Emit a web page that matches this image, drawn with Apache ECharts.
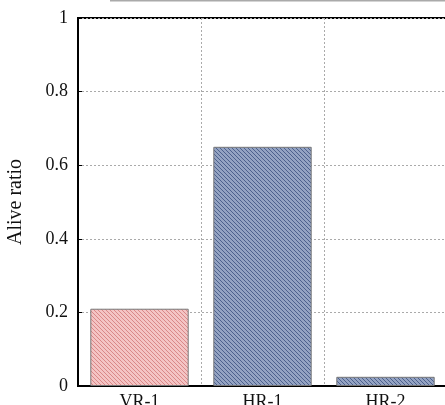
<!DOCTYPE html>
<html><head><meta charset="utf-8">
<script src="https://cdn.jsdelivr.net/npm/echarts@6/dist/echarts.min.js"></script>
<style>html,body{margin:0;padding:0;background:#fff}#c{width:445px;height:405px}</style>
</head><body><div id="c"></div>
<script>
const categories = ['VR-1', 'HR-1', 'HR-2'];
const aliveRatio = [0.21, 0.65, 0.025];
const yTicks = [0, 0.2, 0.4, 0.6, 0.8, 1];

function hatch(base, line) {
  const c = document.createElement('canvas');
  c.width = 4; c.height = 4;
  const g = c.getContext('2d');
  g.fillStyle = base; g.fillRect(0, 0, 4, 4);
  g.fillStyle = line;
  for (let i = 0; i < 4; i++) { g.fillRect(i, i, 1, 1); }
  return c;
}
const pinkPat = { image: hatch('#f4c4c4', '#d98888'), repeat: 'repeat' };
const bluePat = { image: hatch('#94a3c2', '#4d618c'), repeat: 'repeat' };
const fills = [pinkPat, bluePat, bluePat];

const chart = echarts.init(document.getElementById('c'));
const font = 'Liberation Serif';
chart.setOption({
  animation: false,
  grid: { left: 78, top: 18, width: 369, height: 368, containLabel: false, outerBoundsMode: 'none',
    show: true, borderColor: '#000', borderWidth: 2, backgroundColor: 'transparent' },
  graphic: [{ type: 'line', shape: { x1: 110, y1: 0.5, x2: 445, y2: 0.5 }, style: { stroke: '#aaa', lineWidth: 2 } }],
  xAxis: {
    type: 'category', data: categories,
    axisLine: { lineStyle: { color: '#000', width: 2 } },
    axisTick: { show: false },
    splitLine: { show: true, lineStyle: { color: '#aaa', type: [2, 2], width: 1 } },
    axisLabel: { fontFamily: font, fontSize: 18, color: '#111', margin: 7 }
  },
  yAxis: {
    type: 'value', min: 0, max: 1, interval: 0.2,
    name: 'Alive ratio', nameLocation: 'middle', nameGap: 52, nameRotate: 90,
    nameTextStyle: { fontFamily: font, fontSize: 20, color: '#111' },
    axisLine: { show: true, lineStyle: { color: '#000', width: 2 } },
    axisTick: { show: true, inside: true, length: 4, lineStyle: { color: '#000' } },
    splitLine: { show: true, lineStyle: { color: '#aaa', type: [2, 2], width: 1 } },
    axisLabel: { fontFamily: font, fontSize: 18, color: '#111', margin: 10,
      formatter: v => (yTicks.indexOf(v) >= 0 ? String(v) : '') }
  },
  series: [{
    type: 'bar', barCategoryGap: '20%',
    data: aliveRatio.map((v, i) => ({ value: v, itemStyle: { color: fills[i] } })),
    itemStyle: { borderColor: '#777', borderWidth: 1 }
  }]
});
</script></body></html>
